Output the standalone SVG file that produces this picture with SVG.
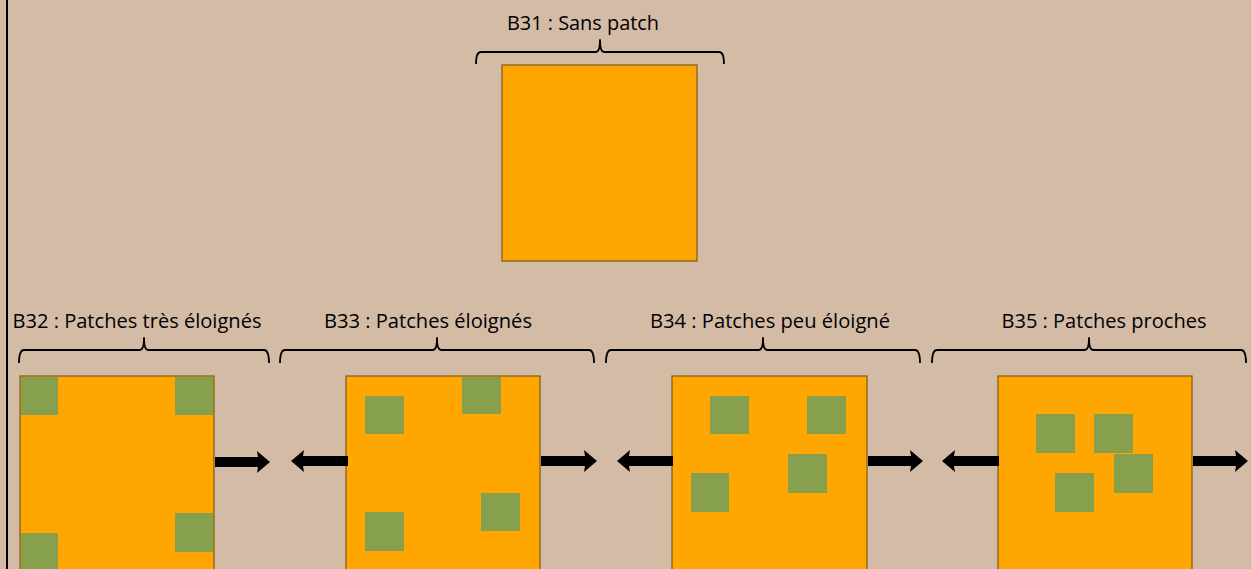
<svg xmlns="http://www.w3.org/2000/svg" width="1251" height="569" viewBox="0 0 1251 569">
<style>
.bg{fill:#D4BBA6}
.land{fill:#FFA700;stroke:#7A5B1A;stroke-width:1.2}
.patch{fill:#86A04D}
.brace{fill:none;stroke:#000;stroke-width:1.8;stroke-linejoin:round}
.lbl{font-family:"Open Sans","Liberation Sans",sans-serif;font-size:19.5px;fill:#000;text-anchor:middle}
.arrow{fill:#000}
</style>
<rect class="bg" x="0" y="0" width="1251" height="569"/>
<rect x="6" y="0" width="2" height="569" fill="#000"/>

<g id="B31">
<text class="lbl" x="583" y="30" textLength="152" lengthAdjust="spacingAndGlyphs">B31 : Sans patch</text>
<path class="brace" d="M476,64 Q476,52 481,52 L596,52 Q600,52 600,40 Q600,52 604,52 L719,52 Q724,52 724,64"/>
<rect class="land" x="502" y="65" width="195" height="196"/>
</g>

<g id="B32">
<text class="lbl" x="137" y="328" textLength="249" lengthAdjust="spacingAndGlyphs">B32 : Patches très éloignés</text>
<path class="brace" d="M19,363 Q19,350 24,350 L140,350 Q144,350 144,338 Q144,350 148,350 L264,350 Q269,350 269,363"/>
<rect class="land" x="20" y="376" width="194" height="196"/>
<rect class="patch" x="21" y="377" width="37" height="38"/>
<rect class="patch" x="175" y="377" width="38" height="38"/>
<rect class="patch" x="175" y="513" width="38" height="39"/>
<rect class="patch" x="21" y="533" width="37" height="38"/>
</g>

<g id="B33">
<text class="lbl" x="428" y="328" textLength="208" lengthAdjust="spacingAndGlyphs">B33 : Patches éloignés</text>
<path class="brace" d="M280,363 Q280,350 285,350 L433,350 Q437,350 437,338 Q437,350 441,350 L589,350 Q594,350 594,363"/>
<rect class="land" x="346" y="376" width="194" height="196"/>
<rect class="patch" x="365" y="396" width="39" height="38"/>
<rect class="patch" x="462" y="377" width="39" height="37"/>
<rect class="patch" x="481" y="493" width="39" height="38"/>
<rect class="patch" x="365" y="512" width="39" height="39"/>
</g>

<g id="B34">
<text class="lbl" x="770" y="328" textLength="240" lengthAdjust="spacingAndGlyphs">B34 : Patches peu éloigné</text>
<path class="brace" d="M606,363 Q606,350 611,350 L759,350 Q763,350 763,338 Q763,350 767,350 L915,350 Q920,350 920,363"/>
<rect class="land" x="672" y="376" width="195" height="196"/>
<rect class="patch" x="710" y="396" width="39" height="38"/>
<rect class="patch" x="807" y="396" width="39" height="38"/>
<rect class="patch" x="788" y="454" width="39" height="39"/>
<rect class="patch" x="691" y="473" width="38" height="39"/>
</g>

<g id="B35">
<text class="lbl" x="1104" y="328" textLength="205" lengthAdjust="spacingAndGlyphs">B35 : Patches proches</text>
<path class="brace" d="M932,363 Q932,350 937,350 L1085,350 Q1089,350 1089,338 Q1089,350 1093,350 L1241,350 Q1246,350 1246,363"/>
<rect class="land" x="998" y="376" width="194" height="196"/>
<rect class="patch" x="1036" y="414" width="39" height="39"/>
<rect class="patch" x="1094" y="414" width="39" height="39"/>
<rect class="patch" x="1114" y="454" width="39" height="39"/>
<rect class="patch" x="1055" y="473" width="39" height="39"/>
</g>

<g id="connectors">
<path class="arrow" d="M215,457 L258,457 L257,451 L270,462 L257,473 L258,467 L215,467 Z"/>
<path class="arrow" d="M348,456 L303,456 L304,450 L291,461 L304,472 L303,466 L348,466 Z"/>
<path class="arrow" d="M541,456 L585,456 L584,450 L597,461 L584,472 L585,466 L541,466 Z"/>
<path class="arrow" d="M673,456 L629,456 L630,450 L617,461 L630,472 L629,466 L673,466 Z"/>
<path class="arrow" d="M868,456 L911,456 L910,450 L923,461 L910,472 L911,466 L868,466 Z"/>
<path class="arrow" d="M999,456 L954,456 L955,450 L942,461 L955,472 L954,466 L999,466 Z"/>
<path class="arrow" d="M1193,456 L1236,456 L1235,450 L1248,461 L1235,472 L1236,466 L1193,466 Z"/>
</g>
</svg>
